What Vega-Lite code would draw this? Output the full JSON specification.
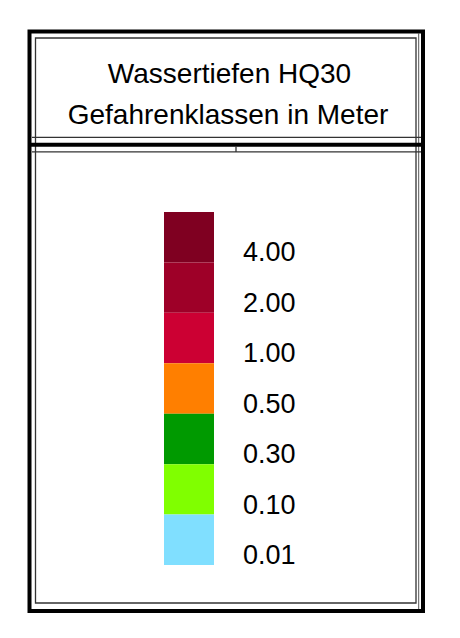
{
  "$schema": "https://vega.github.io/schema/vega-lite/v6.json",
  "width": 460,
  "height": 638,
  "autosize": {"type": "none"},
  "padding": 0,
  "background": "white",
  "config": {"view": {"stroke": null}},
  "datasets": {
    "klassen": [
      {"klasse": "4.00"},
      {"klasse": "2.00"},
      {"klasse": "1.00"},
      {"klasse": "0.50"},
      {"klasse": "0.30"},
      {"klasse": "0.10"},
      {"klasse": "0.01"}
    ]
  },
  "layer": [
    {
      "data": {"values": [{}]},
      "layer": [
        {
          "mark": {"type": "rect", "fill": null, "stroke": "#000000", "strokeWidth": 4},
          "encoding": {
            "x": {"datum": 29.5, "type": "quantitative", "scale": {"domain": [0, 460], "nice": false, "zero": false}, "axis": null},
            "x2": {"datum": 423},
            "y": {"datum": 31.5, "type": "quantitative", "scale": {"domain": [0, 638], "reverse": true, "nice": false, "zero": false}, "axis": null},
            "y2": {"datum": 611}
          }
        },
        {
          "mark": {"type": "rect", "fill": null, "stroke": "#333333", "strokeWidth": 1.3},
          "encoding": {
            "x": {"datum": 35.5, "type": "quantitative"},
            "x2": {"datum": 416},
            "y": {"datum": 38, "type": "quantitative"},
            "y2": {"datum": 603}
          }
        },
        {
          "mark": {"type": "rule", "stroke": "#555555", "strokeWidth": 1},
          "encoding": {
            "x": {"datum": 418.7, "type": "quantitative"},
            "y": {"datum": 33, "type": "quantitative"},
            "y2": {"datum": 609}
          }
        },
        {
          "mark": {"type": "rule", "stroke": "#333333", "strokeWidth": 1.3},
          "encoding": {
            "x": {"datum": 32, "type": "quantitative"},
            "x2": {"datum": 421},
            "y": {"datum": 137.3, "type": "quantitative"}
          }
        },
        {
          "mark": {"type": "rule", "stroke": "#000000", "strokeWidth": 4},
          "encoding": {
            "x": {"datum": 29.5, "type": "quantitative"},
            "x2": {"datum": 423},
            "y": {"datum": 144.8, "type": "quantitative"}
          }
        },
        {
          "mark": {"type": "rule", "stroke": "#333333", "strokeWidth": 1.3},
          "encoding": {
            "x": {"datum": 32, "type": "quantitative"},
            "x2": {"datum": 421},
            "y": {"datum": 151.8, "type": "quantitative"}
          }
        },
        {
          "mark": {"type": "rule", "stroke": "#333333", "strokeWidth": 1.3},
          "encoding": {
            "x": {"datum": 236, "type": "quantitative"},
            "y": {"datum": 146.5, "type": "quantitative"},
            "y2": {"datum": 152}
          }
        },
        {
          "mark": {"type": "text", "text": "Wassertiefen HQ30", "font": "Liberation Sans", "fontSize": 28, "align": "center", "baseline": "alphabetic", "fill": "#000000"},
          "encoding": {
            "x": {"datum": 229.5, "type": "quantitative"},
            "y": {"datum": 83, "type": "quantitative"}
          }
        },
        {
          "mark": {"type": "text", "text": "Gefahrenklassen in Meter", "font": "Liberation Sans", "fontSize": 28, "align": "center", "baseline": "alphabetic", "fill": "#000000"},
          "encoding": {
            "x": {"datum": 228, "type": "quantitative"},
            "y": {"datum": 124, "type": "quantitative"}
          }
        }
      ]
    },
    {
      "data": {"name": "klassen"},
      "layer": [
        {
          "mark": {"type": "rect", "stroke": null},
          "encoding": {
            "x": {"datum": 164, "type": "quantitative"},
            "x2": {"datum": 214},
            "y": {"field": "klasse", "type": "nominal", "sort": null, "axis": null, "scale": {"type": "band", "range": [212, 565], "paddingInner": 0, "paddingOuter": 0}},
            "color": {
              "field": "klasse",
              "type": "nominal",
              "legend": null,
              "scale": {
                "domain": ["4.00", "2.00", "1.00", "0.50", "0.30", "0.10", "0.01"],
                "range": ["#7f0021", "#9e0028", "#cc0033", "#ff7f00", "#009a00", "#80ff00", "#80dfff"]
              }
            }
          }
        },
        {
          "mark": {"type": "text", "font": "Liberation Sans", "fontSize": 27, "align": "left", "baseline": "alphabetic", "dy": -1, "fill": "#000000"},
          "encoding": {
            "x": {"datum": 243, "type": "quantitative"},
            "y": {"field": "klasse", "type": "nominal", "sort": null, "bandPosition": 1},
            "text": {"field": "klasse", "type": "nominal"}
          }
        }
      ]
    }
  ],
  "resolve": {"scale": {"y": "independent"}}
}
